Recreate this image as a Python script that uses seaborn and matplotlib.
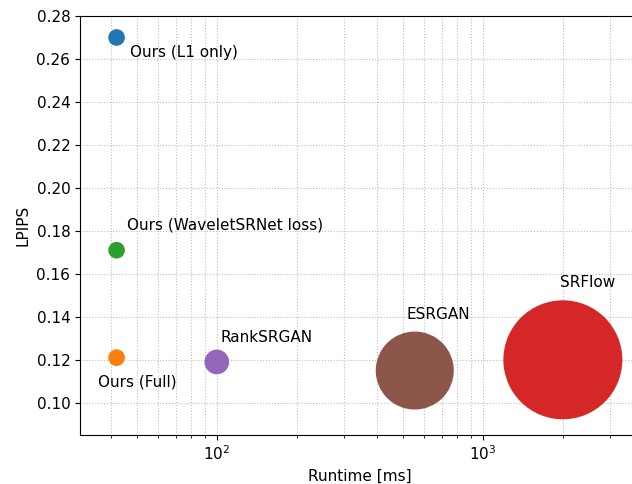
import pandas as pd
import seaborn as sns
import matplotlib
matplotlib.use("Agg")
import matplotlib.pyplot as plt

# values
methods = ["Ours (L1 only)", "Ours (Full)", "Ours (WaveletSRNet loss)", "SRFlow", "RankSRGAN", "ESRGAN"]
runtime_ms = [42, 42, 42, 2000, 100, 555]
lpips = [0.270, 0.121, 0.171, 0.120, 0.119, 0.115]
marker_area = [144, 144, 144, 7340, 316, 3154]

# text offsets (pixels) from each point
label_offsets = {
    "Ours (L1 only)": (13, -15),
    "Ours (Full)": (-19, -24),
    "Ours (WaveletSRNet loss)": (10, 25),
    "SRFlow": (-3, 77),
    "RankSRGAN": (4, 24),
    "ESRGAN": (-8, 56),
}

df = pd.DataFrame({"method": methods, "runtime": runtime_ms, "lpips": lpips, "area": marker_area})

plt.rcParams["font.size"] = 11
fig = plt.figure(figsize=(6.32, 4.84), dpi=100)
ax = fig.add_axes([80 / 632, 49 / 484, 560 / 632, 419 / 484])

sns.scatterplot(
    data=df, x="runtime", y="lpips",
    hue="method", hue_order=methods, palette="tab10",
    size="area", sizes=(min(marker_area), max(marker_area)),
    size_norm=(min(marker_area), max(marker_area)),
    linewidth=0, alpha=1.0, legend=False, ax=ax, zorder=3,
)

for m, x, y in zip(methods, runtime_ms, lpips):
    dx, dy = label_offsets[m]
    ax.annotate(m, (x, y), xytext=(dx, dy), textcoords="offset pixels",
                ha="left", va="center", fontsize=11)

ax.set_xscale("log")
ax.set_xlim(30.6, 3900)
ax.set_ylim(0.085, 0.28)
ax.set_yticks([0.10, 0.12, 0.14, 0.16, 0.18, 0.20, 0.22, 0.24, 0.26, 0.28])
ax.grid(True, which="both", linestyle=":", color="#bdbdbd", linewidth=0.8, zorder=0)
ax.set_axisbelow(True)
ax.set_xlabel("Runtime [ms]")
ax.set_ylabel("LPIPS")

fig.savefig("out.png", dpi=100)
